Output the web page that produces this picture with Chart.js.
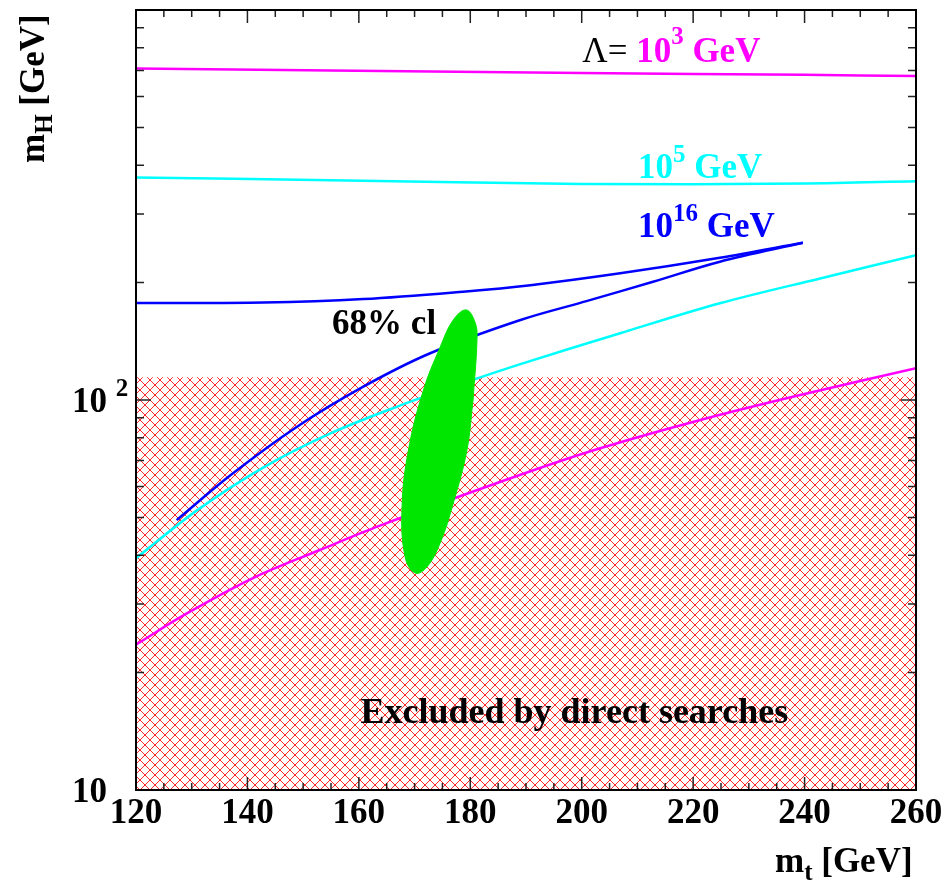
<!DOCTYPE html>
<html>
<head>
<meta charset="utf-8">
<script src="https://cdn.jsdelivr.net/npm/chart.js@4.4.0/dist/chart.umd.min.js"></script>
<style>
  html, body { margin: 0; padding: 0; background: #fff; }
  #wrap { width: 945px; height: 883px; }
</style>
</head>
<body>
<div id="wrap"><canvas id="mhChart" width="945" height="883"></canvas></div>
<script>
// m_t [GeV] vs m_H [GeV] – triviality / stability bounds for several cutoffs

// Lambda = 10^3 GeV (magenta)
const magHighX = [120, 155, 200, 240, 260];
const magHighY = [708, 700, 689, 682, 677];
const magLowX = [120, 129.2, 141.1, 153.1, 163.9, 189, 203.3, 221.3, 239.2, 260];
const magLowY = [23.6, 28.4, 35.0, 41.3, 47.7, 64.3, 75.2, 88.9, 103, 120.6];

// Lambda = 10^5 GeV (cyan)
const cyanHighX = [120, 155, 200, 240, 260];
const cyanHighY = [372, 366, 358, 359, 364];
const cyanLowX = [120, 131, 142.9, 154.9, 166.9, 178.7, 189, 206.9, 224.8, 242.8, 260];
const cyanLowY = [39.3, 52.2, 67.2, 82.1, 96.2, 110.4, 123.6, 148.3, 177, 205, 235];

// Lambda = 10^16 GeV (blue), both branches meet at the tip
const blueHighX = [120, 142.9, 160.8, 178.7, 190.8, 206.9, 224.8, 239.7];
const blueHighY = [177.3, 177.8, 181.5, 189.6, 197, 211.3, 231.6, 253];
const blueLowX = [127.3, 137, 148.9, 160.8, 172.8, 189, 201, 212.8, 224.8, 239.7];
const blueLowY = [49.2, 64.2, 85.4, 108.2, 131.8, 160.4, 179.5, 201, 226.3, 253];

// 68% cl contour (green)
const clX = [180.5, 179.4, 176.95, 174.6, 172.2, 170.1, 168.3, 167.75, 168.9, 171.6, 174.6, 176.95, 179.28, 180.9, 181.2, 180.5];
const clY = [100, 74.4, 54.4, 43.0, 37.3, 36.0, 39.6, 53.2, 74.4, 106.1, 136.7, 160.4, 170.2, 157.5, 142.6, 100];

// direct search exclusion
const exclX = [120, 260];
const exclY = [114.4, 114.4];

// axes
const xTickLabels = [120, 140, 160, 180, 200, 220, 240, 260];
const xMinorStep = 5;
const yMinorTicks = [20, 30, 40, 50, 60, 70, 80, 90, 200, 300, 400, 500, 600, 700, 800, 900];
const yMajorTicks = [100];

const pts = (xs, ys) => xs.map((x, i) => ({ x, y: ys[i] }));

// crisp pixel cross-hatch, like the ROOT fill style
function hatchPattern() {
  const n = 10;
  const c = document.createElement('canvas');
  c.width = n; c.height = n;
  const g = c.getContext('2d');
  g.fillStyle = '#ff2a2a';
  for (let i = 0; i < n; i++) {
    g.fillRect(i, i, 1, 1);
    g.fillRect(n - 1 - i, i, 1, 1);
  }
  return g.createPattern(c, 'repeat');
}

const FONT = '"Liberation Serif", "Times New Roman", serif';

function rich(ctx, x, y, parts) {
  parts.forEach(p => {
    ctx.font = `${p.w || 'bold'} ${p.s || 35}px ${FONT}`;
    ctx.fillStyle = p.c || '#000';
    ctx.fillText(p.t, x, y + (p.dy || 0));
    x += ctx.measureText(p.t).width;
  });
}

const line = (xs, ys, color, order) => ({
  data: pts(xs, ys), showLine: true, borderColor: color, borderWidth: 2.5,
  pointRadius: 0, tension: 0.35, fill: false, order
});

const decorations = {
  id: 'decorations',
  afterDatasetsDraw(chart) {
    const { ctx, chartArea: a, scales: { x, y } } = chart;
    ctx.save();
    ctx.textBaseline = 'alphabetic';

    // ticks on all four sides (drawn inwards)
    ctx.strokeStyle = '#222';
    ctx.lineWidth = 1.5;
    ctx.beginPath();
    for (let v = x.min; v <= x.max; v += xMinorStep) {
      const px = x.getPixelForValue(v);
      const len = xTickLabels.includes(v) ? 13 : 7;
      ctx.moveTo(px, a.bottom); ctx.lineTo(px, a.bottom - len);
      ctx.moveTo(px, a.top); ctx.lineTo(px, a.top + len);
    }
    yMinorTicks.concat(yMajorTicks).forEach(v => {
      const py = y.getPixelForValue(v);
      const len = yMajorTicks.includes(v) ? 15 : 8;
      ctx.moveTo(a.left, py); ctx.lineTo(a.left + len, py);
      ctx.moveTo(a.right, py); ctx.lineTo(a.right - len, py);
    });
    ctx.stroke();

    // frame
    ctx.strokeStyle = '#000';
    ctx.lineWidth = 2;
    ctx.strokeRect(a.left, a.top, a.right - a.left, a.bottom - a.top);

    // x tick labels
    ctx.font = `bold 35px ${FONT}`;
    ctx.fillStyle = '#000';
    ctx.textAlign = 'center';
    xTickLabels.forEach(v => ctx.fillText(String(v), x.getPixelForValue(v), a.bottom + 33));
    ctx.textAlign = 'left';

    // y tick labels
    rich(ctx, 72, y.getPixelForValue(100) + 12, [{ t: '10 ' }, { t: '2', s: 25, dy: -16 }]);
    rich(ctx, 72, y.getPixelForValue(10) + 12, [{ t: '10' }]);

    // axis titles
    rich(ctx, 775, 872, [{ t: 'm' }, { t: 't', s: 25, dy: 8 }, { t: ' [GeV]' }]);
    ctx.save();
    ctx.translate(44, 163);
    ctx.rotate(-Math.PI / 2);
    rich(ctx, 0, 0, [{ t: 'm' }, { t: 'H', s: 25, dy: 8 }, { t: ' [GeV]' }]);
    ctx.restore();

    // curve labels
    rich(ctx, x.getPixelForValue(200.1), y.getPixelForValue(735), [
      { t: 'Λ= ', w: 'normal' }, { t: '10', c: '#ff00ff' }, { t: '3', s: 25, dy: -18, c: '#ff00ff' }, { t: ' GeV', c: '#ff00ff' }
    ]);
    rich(ctx, x.getPixelForValue(210.1), y.getPixelForValue(371), [
      { t: '10', c: '#00ffff' }, { t: '5', s: 25, dy: -16, c: '#00ffff' }, { t: ' GeV', c: '#00ffff' }
    ]);
    rich(ctx, x.getPixelForValue(210.1), y.getPixelForValue(262), [
      { t: '10', c: '#0000ff' }, { t: '16', s: 25, dy: -16, c: '#0000ff' }, { t: ' GeV', c: '#0000ff' }
    ]);
    rich(ctx, x.getPixelForValue(155.2), y.getPixelForValue(147.6), [{ t: '68% cl' }]);
    rich(ctx, x.getPixelForValue(160.3), y.getPixelForValue(14.85), [{ t: 'Excluded by direct searches', s: 36 }]);

    ctx.restore();
  }
};

new Chart(document.getElementById('mhChart'), {
  type: 'scatter',
  data: {
    datasets: [
      { data: pts(clX, clY), showLine: true, borderColor: '#00e600', backgroundColor: '#00e600', borderWidth: 1,
        pointRadius: 0, tension: 0.4, fill: 'shape', order: 0 },
      line(blueHighX, blueHighY, '#0000ff', 1),
      line(blueLowX, blueLowY, '#0000ff', 1),
      line(cyanHighX, cyanHighY, '#00ffff', 1),
      line(cyanLowX, cyanLowY, '#00ffff', 1),
      line(magHighX, magHighY, '#ff00ff', 1),
      line(magLowX, magLowY, '#ff00ff', 1),
      { data: pts(exclX, exclY), showLine: true, borderWidth: 0, borderColor: 'rgba(0,0,0,0)',
        backgroundColor: hatchPattern(), pointRadius: 0, fill: 'start', order: 5 }
    ]
  },
  options: {
    responsive: false,
    animation: false,
    layout: { padding: { left: 136, right: 29, top: 10, bottom: 93 } },
    plugins: { legend: { display: false }, tooltip: { enabled: false } },
    scales: {
      x: { type: 'linear', min: 120, max: 260, display: false },
      y: { type: 'logarithmic', min: 10, max: 1000, display: false }
    }
  },
  plugins: [decorations]
});
</script>
</body>
</html>
